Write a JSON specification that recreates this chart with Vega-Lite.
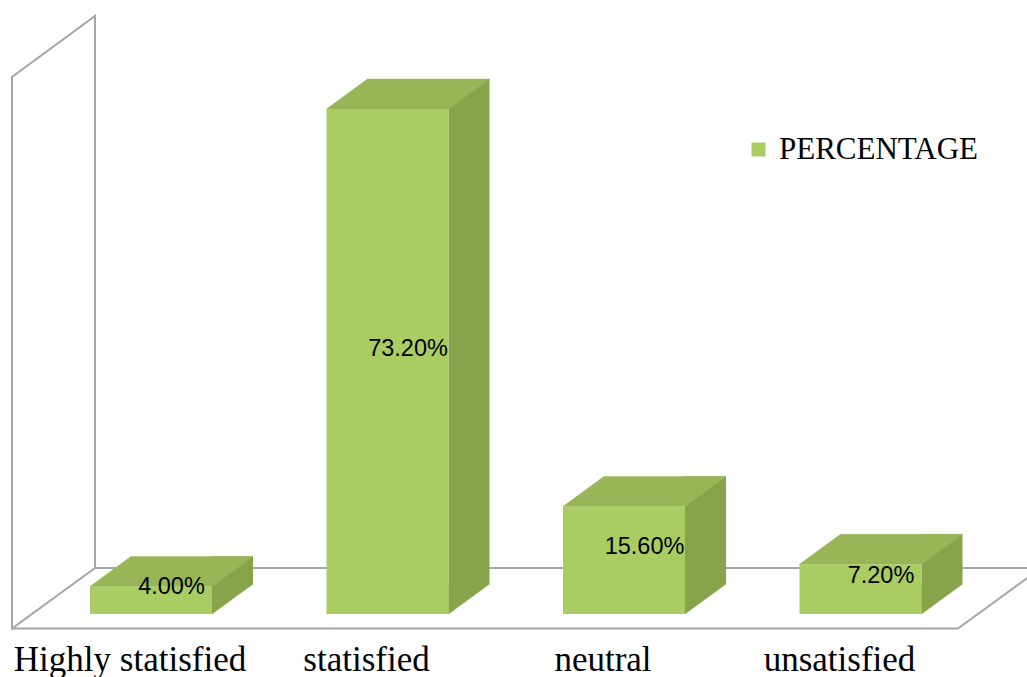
{
  "$schema": "https://vega.github.io/schema/vega-lite/v6.json",
  "width": 1027,
  "height": 614,
  "autosize": {"type": "none"},
  "padding": {"left": 0, "top": 0, "right": 0, "bottom": 63},
  "background": "white",
  "config": {"view": {"stroke": null}},
  "data": {"values": [
    {"category": "Highly statisfied", "value": 0.04},
    {"category": "statisfied", "value": 0.732},
    {"category": "neutral", "value": 0.156},
    {"category": "unsatisfied", "value": 0.072}
  ]},
  "encoding": {
    "x": {
      "field": "category",
      "type": "nominal",
      "scale": {"domain": ["Highly statisfied", "statisfied", "neutral", "unsatisfied"], "paddingInner": 0, "paddingOuter": 0.17125, "align": 0.4043, "round": false},
      "axis": {"title": null, "domain": false, "ticks": false, "tickSize": 0, "labelAngle": 0, "labelFont": "Liberation Serif", "labelFontSize": 35, "labelColor": "black", "labelOffset": -21, "labelPadding": 56, "labelBaseline": "alphabetic", "labelOverlap": false, "labelBound": false, "labelLimit": 0, "grid": false}
    }
  },
  "layer": [
    {
      "data": {"values": [{}]},
      "mark": {"type": "point", "shape": "M-139,14.5 L-139,-537 L-56,-598 L-56,-46 L-139,14.5 Z M-56,-46 L890,-46 M-139,14.5 L807,14.5 L890,-46", "size": 4, "filled": false, "stroke": "#A6A6A6", "strokeWidth": 2, "opacity": 1},
      "encoding": {
        "x": {"datum": "Highly statisfied", "type": "nominal"},
        "y": {"datum": 0, "type": "quantitative", "scale": {"domain": [0, 0.89], "nice": false}, "axis": null}
      }
    },
    {
      "mark": {"type": "bar", "width": 41, "xOffset": 81.5, "yOffset": -30, "y2Offset": -30, "fill": "#88A44B"},
      "encoding": {
        "y": {"field": "value", "type": "quantitative", "scale": {"domain": [0, 0.89], "nice": false}, "axis": null},
        "y2": {"datum": 0}
      }
    },
    {
      "mark": {"type": "point", "shape": "M61,0 L61,-30 L102,-30 Z", "size": 4, "filled": true, "fill": "#88A44B", "stroke": "#88A44B", "strokeWidth": 0.5, "opacity": 1},
      "encoding": {
        "y": {"datum": 0, "type": "quantitative", "scale": {"domain": [0, 0.89], "nice": false}, "axis": null}
      }
    },
    {
      "mark": {"type": "point", "shape": "M-61,0 L61,0 L102,-30 L-20,-30 Z", "size": 4, "filled": true, "fill": "#98B558", "stroke": "#98B558", "strokeWidth": 0.5, "opacity": 1},
      "encoding": {
        "y": {"field": "value", "type": "quantitative", "scale": {"domain": [0, 0.89], "nice": false}, "axis": null}
      }
    },
    {
      "mark": {"type": "bar", "width": 122},
      "encoding": {
        "y": {"field": "value", "type": "quantitative", "scale": {"domain": [0, 0.89], "nice": false}, "axis": null},
        "y2": {"datum": 0},
        "color": {
          "datum": "PERCENTAGE",
          "type": "nominal",
          "scale": {"range": ["#A9CD63"]},
          "legend": {"orient": "none", "legendX": 743, "legendY": 134, "title": null, "symbolType": "square", "symbolSize": 196, "symbolStrokeWidth": 0, "labelFont": "Liberation Serif", "labelFontSize": 31, "labelColor": "black", "labelOffset": 5, "labelLimit": 0, "padding": 0, "encode": {"symbols": {"update": {"fill": {"value": "#9BBB59"}}}}}
        }
      }
    },
    {
      "mark": {"type": "text", "font": "Liberation Sans", "fontSize": 23.5, "color": "black", "align": "center", "baseline": "middle", "dx": 20.5, "dy": -13},
      "encoding": {
        "y": {"field": "value", "type": "quantitative", "scale": {"domain": [0, 1.78], "nice": false}, "axis": null},
        "text": {"field": "value", "type": "quantitative", "format": ".2%"}
      }
    }
  ],
  "resolve": {"scale": {"y": "independent"}}
}
